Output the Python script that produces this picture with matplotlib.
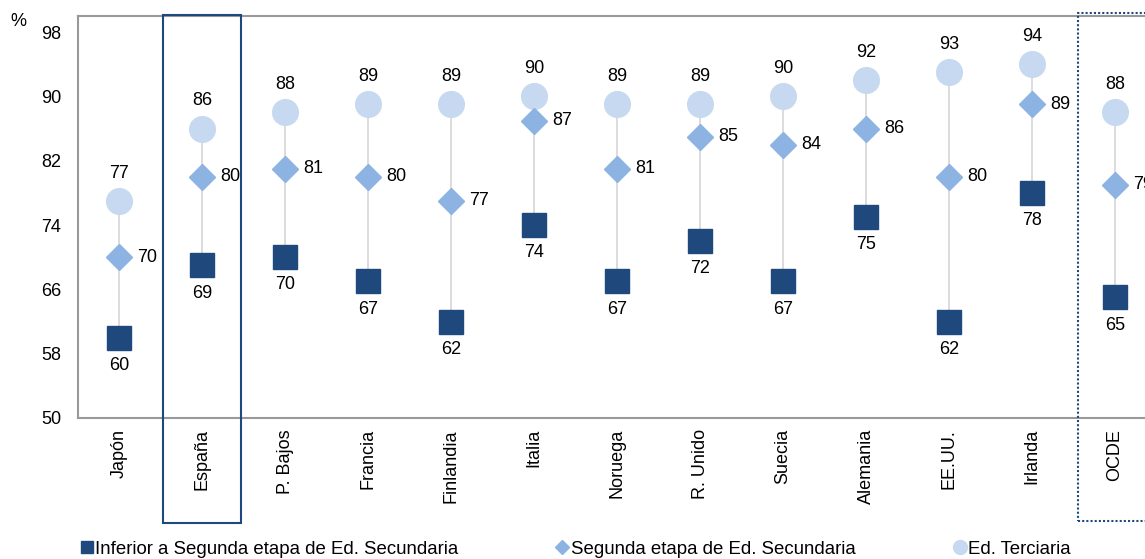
import numpy as np
import matplotlib.pyplot as plt
from matplotlib.patches import Rectangle
from matplotlib.lines import Line2D
import matplotlib.transforms as mtransforms

plt.rcParams['font.family'] = ['Liberation Sans', 'DejaVu Sans']

paises = ["Japón", "España", "P. Bajos", "Francia", "Finlandia", "Italia", "Noruega",
          "R. Unido", "Suecia", "Alemania", "EE.UU.", "Irlanda", "OCDE"]
inferior = [60, 69, 70, 67, 62, 74, 67, 72, 67, 75, 62, 78, 65]
segunda = [70, 80, 81, 80, 77, 87, 81, 85, 84, 86, 80, 89, 79]
terciaria = [77, 86, 88, 89, 89, 90, 89, 89, 90, 92, 93, 94, 88]
yticks = [50, 58, 66, 74, 82, 90, 98]

c_inf = "#1f497d"
c_seg = "#8db3e2"
c_ter = "#c6d9f1"


def main():
    fig = plt.figure(figsize=(11.45, 5.59), dpi=100)
    # axes run past the right edge, as in the original crop
    ax = fig.add_axes([78 / 1145, 141 / 559, 1078.5 / 1145, 402 / 559])
    x = np.arange(len(paises))
    fs = 13

    ax.vlines(x, inferior, terciaria, color="#d9d9d9", lw=1.3, zorder=1)
    ax.plot(x, terciaria, "o", ms=18.5, color=c_ter, zorder=2, ls="none")
    ax.plot(x, segunda, "D", ms=13.5, color=c_seg, zorder=3, ls="none")
    ax.plot(x, inferior, "s", ms=17, color=c_inf, zorder=4, ls="none")

    for xi, a, b, c in zip(x, inferior, segunda, terciaria):
        ax.annotate(str(c), (xi, c), xytext=(0, 20), textcoords="offset points",
                    ha="center", va="center", fontsize=fs)
        ax.annotate(str(b), (xi, b), xytext=(13, 0), textcoords="offset points",
                    ha="left", va="center", fontsize=fs)
        ax.annotate(str(a), (xi, a), xytext=(0, -20), textcoords="offset points",
                    ha="center", va="center", fontsize=fs)

    ax.set_xlim(-0.5, 12.5)
    ax.set_ylim(50, 100)
    ax.set_yticks(yticks)
    ax.set_xticks(x)
    ax.set_xticklabels(paises, rotation=90, fontsize=fs)
    ax.tick_params(axis="both", length=0, labelsize=fs)
    ax.tick_params(axis="y", pad=12)
    ax.tick_params(axis="x", pad=8)
    for s in ["left", "top", "bottom"]:
        ax.spines[s].set_color("#999999")
        ax.spines[s].set_linewidth(1.5)
    ax.spines["right"].set_visible(False)

    fig.text(18 / 1145, 1 - 22 / 559, "%", fontsize=fs, ha="center", va="center")

    trans = mtransforms.blended_transform_factory(ax.transData, ax.transAxes)
    ax.add_patch(Rectangle((0.53, -0.261), 0.93, 1.264, transform=trans, fill=False,
                           ec="#1f497d", lw=1.5, clip_on=False, zorder=5))
    ax.add_patch(Rectangle((11.556, -0.256), 1.2, 1.264, transform=trans, fill=False,
                           ec="#1f497d", lw=1.5, ls=(0, (1, 1)), clip_on=False, zorder=5))

    handles = [
        Line2D([], [], marker="s", ls="none", color=c_inf, ms=9),
        Line2D([], [], marker="D", ls="none", color=c_seg, ms=7),
        Line2D([], [], marker="o", ls="none", color=c_ter, ms=10),
    ]
    labels = ["Inferior a Segunda etapa de Ed. Secundaria",
              "Segunda etapa de Ed. Secundaria", "Ed. Terciaria"]
    fig.legend(handles, labels, loc="center left", bbox_to_anchor=(81 / 1145, 1 - 549 / 559),
               ncol=3, frameon=False, handlelength=0.6, handletextpad=0.15,
               columnspacing=5.3, borderaxespad=0, borderpad=0,
               prop={"size": 13.4})

    fig.savefig("out.png", dpi=100)


if __name__ == "__main__":
    main()
